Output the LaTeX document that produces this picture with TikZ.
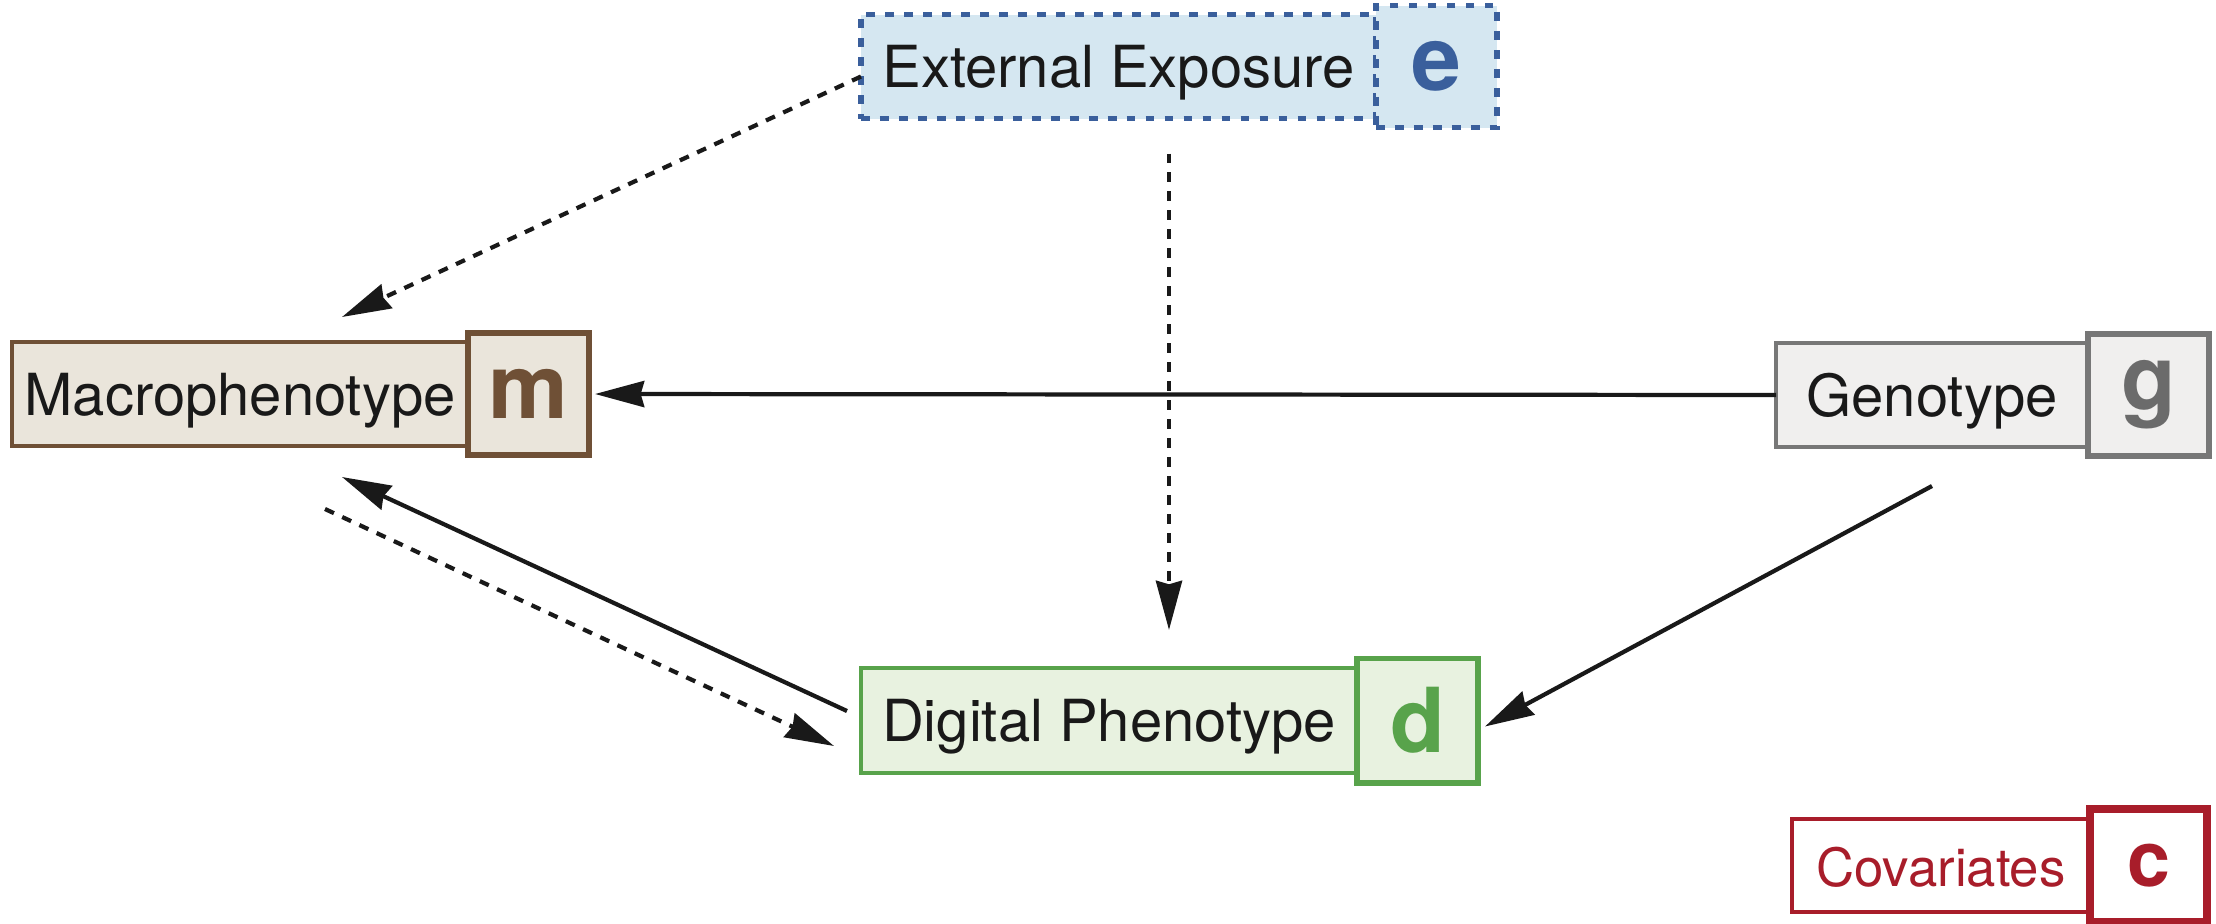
\documentclass[tikz,border=0pt]{standalone}
\usepackage{fontspec}
\setmainfont{TeX Gyre Heros}
\usepackage{tikz}
\usetikzlibrary{arrows.meta,positioning}
\definecolor{expblue}{HTML}{3A5F9C}
\definecolor{expfill}{HTML}{D5E7F1}
\definecolor{macbrown}{HTML}{6F5036}
\definecolor{macfill}{HTML}{EAE5DB}
\definecolor{gengray}{HTML}{777777}
\definecolor{genfill}{HTML}{F0EFEE}
\definecolor{diggreen}{HTML}{58A34B}
\definecolor{digfill}{HTML}{E8F2E0}
\definecolor{covred}{HTML}{A81D2A}

\begin{document}
\begin{tikzpicture}[
  mainbox/.style={draw, line width=1.3pt, outer sep=0pt, inner sep=0pt, minimum height=1.04cm,
    font=\fontsize{16.5}{20}\selectfont, text=black!90, text height=0.42cm, text depth=0pt},
  letterbox/.style={draw, line width=1.7pt, outer sep=0pt, inner sep=0pt, minimum width=1.21cm,
    minimum height=1.22cm, font=\fontsize{25.5}{30}\bfseries\selectfont},
  arr/.style={-{Stealth[length=14pt,width=7.4pt,inset=1pt]}, line width=1.2pt, black!90},
  dasharr/.style={arr, dash pattern=on 2.8pt off 2.6pt}
]
\useasboundingbox (0,0) rectangle (22.16,-9.23);

% variables
\node[mainbox, fill=expfill, draw=expblue, line width=1.5pt, dash pattern=on 2.5pt off 2.9pt, minimum width=5.15cm] (ext) at (11.185,-0.665) {External Exposure};
\node[letterbox, fill=expfill, draw=expblue, text=expblue, line width=1.5pt, dash pattern=on 2.5pt off 2.9pt, right=0pt of ext] (extl) {e};

\node[mainbox, fill=macfill, draw=macbrown, minimum width=4.56cm] (macro) at (2.40,-3.94) {Macrophenotype};
\node[letterbox, fill=macfill, draw=macbrown, text=macbrown, right=0pt of macro] (macrol) {m};

\node[mainbox, fill=genfill, draw=gengray, minimum width=3.12cm] (geno) at (19.32,-3.95) {Genotype};
\node[letterbox, fill=genfill, draw=gengray, text=gengray!90!black, right=0pt of geno] (genol) {g};

\node[mainbox, fill=digfill, draw=diggreen, minimum width=4.96cm, minimum height=1.05cm] (digi) at (11.09,-7.205) {Digital Phenotype};
\node[letterbox, fill=digfill, draw=diggreen, text=diggreen, minimum height=1.24cm, right=0pt of digi] (digil) {d};

\node[mainbox, fill=white, draw=covred, text=covred, line width=1.1pt, minimum width=2.98cm, minimum height=0.93cm,
  font=\fontsize{15}{18}\selectfont] (cov) at (19.41,-8.655) {Covariates};
\node[letterbox, fill=white, draw=covred, text=covred, line width=2.1pt, minimum width=1.17cm, minimum height=1.13cm,
  font=\fontsize{22}{26}\bfseries\selectfont, right=0pt of cov] (covl) {c};

% effects
\draw[dasharr] ([yshift=-0.1cm]ext.west) -- ([xshift=1.02cm,yshift=0.25cm]macro.north);
\draw[dasharr] ([xshift=0.505cm,yshift=-0.35cm]ext.south) -- ([xshift=0.6cm,yshift=0.38cm]digi.north);
\draw[arr] (geno.west) -- ([xshift=0.06cm]macrol.east);
\draw[arr] ([xshift=-0.14cm,yshift=0.095cm]digi.west) -- ([xshift=1.02cm,yshift=-0.31cm]macro.south);
\draw[dasharr] ([xshift=0.85cm,yshift=-0.63cm]macro.south) -- ([xshift=-0.27cm,yshift=-0.255cm]digi.west);
\draw[arr] ([yshift=-0.39cm]geno.south) -- ([xshift=0.07cm,yshift=-0.06cm]digil.east);
\end{tikzpicture}
\end{document}
